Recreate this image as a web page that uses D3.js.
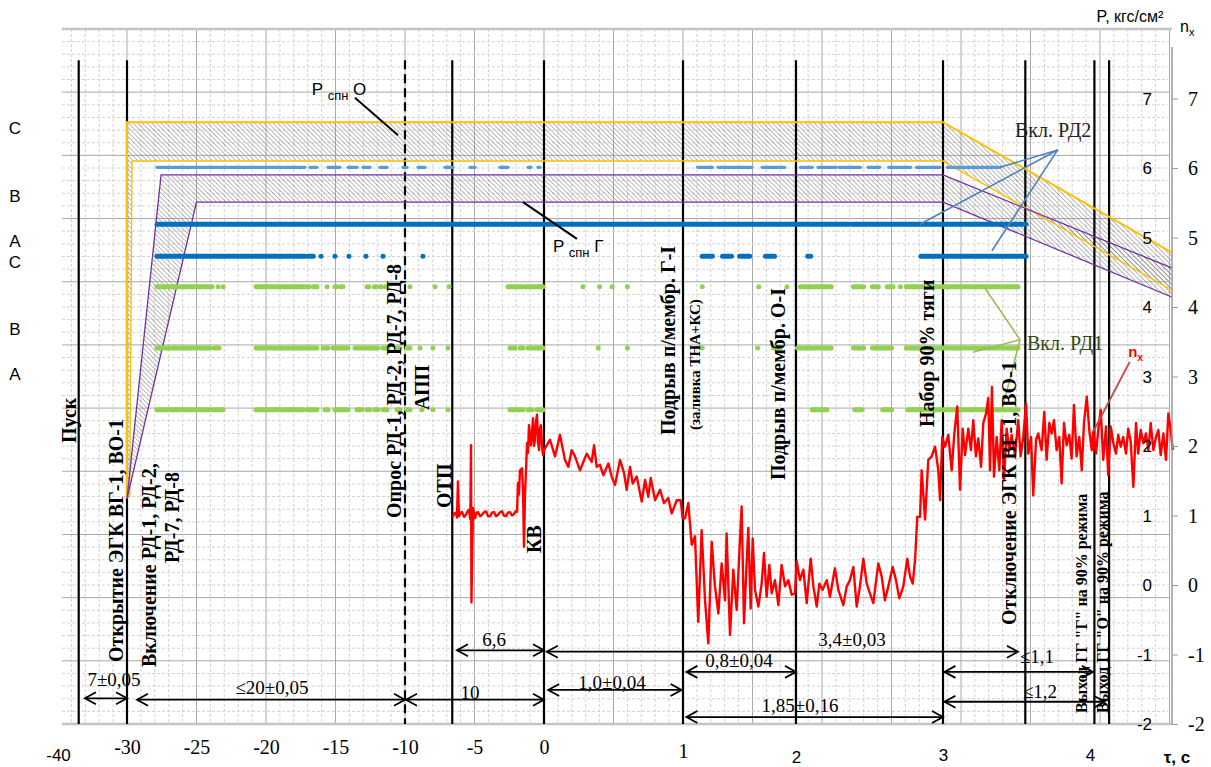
<!DOCTYPE html>
<html lang="ru">
<head>
<meta charset="utf-8">
<title>Циклограмма запуска</title>
<script src="https://cdn.jsdelivr.net/npm/d3@7"></script>
<style>
  body { margin: 0; background: #fff; }
  svg { display: block; }
</style>
</head>
<body>
<div id="chart"></div>
<script>
// ---- values ----
// time axis ticks and the break points of the piecewise time scale
let xTicks = [-40, -30, -25, -20, -15, -10, -5, 0, 1, 2, 3, 4];
let xBreaks = [-40, -30, 0, 1, 2, 3, 4];
let yTicks = [-2, -1, 0, 1, 2, 3, 4, 5, 6, 7];

// letters on the left side and the levels they stand at
let sideLetters = ["C", "B", "A", "C", "B", "A"];
let sideLetterLevels = [6.58, 5.60, 4.95, 4.65, 3.68, 3.04];

// vertical event lines
let eventTimes = [-37, -30, -6.6, 0, 1, 2, 3, 3.56, 4.03, 4.13];
let dashedEventTimes = [-10];

// P спн O band (yellow) and P спн Г band (purple), [t, P]
let bandOOuter = [[-30, 1.24], [-30, 6.66], [3, 6.66], [4.56, 4.78]];
let bandOInner = [[-29.8, 1.26], [-29.64, 6.10], [3, 6.10], [4.56, 4.24]];
let bandGOuter = [[-30, 1.24], [-27.55, 5.90], [3, 5.90], [4.56, 4.56]];
let bandGInner = [[-30, 1.24], [-25, 5.51], [3, 5.51], [4.56, 4.14]];

// signal rows: level and [from, to] pieces
let rowLB = 6.01;
let rowLBSegs = [[-27.84, -17.2], [-16.83, -16.33], [-15.54, -14.68], [-14.1, -13.45], [-13.02, -12.52],
  [-11.8, -11.29], [-10.14, -9.86], [-9.06, -8.56], [-7.12, -6.55], [-5.32, -4.96], [-3.17, -2.59],
  [-1.15, -0.94], [-0.43, -0.29], [1.13, 1.26], [1.31, 1.61], [1.70, 1.90], [2.03, 2.11], [2.15, 2.27],
  [2.29, 2.44], [2.49, 2.57], [2.63, 2.78], [2.82, 2.98], [3.03, 3.39]];
let rowB1 = 5.19;
let rowB1Segs = [[-27.84, -17.15], [-17.0, -2.33], [-2.25, 1.28], [1.30, 2.36], [2.38, 3.565]];
let rowB2 = 4.73;
let rowB2Segs = [[-27.84, -17.2], [-16.98, -16.6], [-16.04, -16.04], [-15.04, -15.04], [-14.03, -14.03],
  [-12.81, -12.81], [-11.58, -11.58], [-8.71, -8.71], [1.17, 1.26], [1.35, 1.43], [1.50, 1.59],
  [1.73, 1.81], [2.08, 2.10], [2.85, 3.565]];
let rowG1 = 4.29;
let rowG1Segs = [[-27.84, -23.88], [-23.45, -23.45], [-23.09, -23.09], [-20.72, -17.19], [-16.98, -16.9],
  [-16.6, -16.33], [-15.61, -15.61], [-15.04, -14.9], [-14.6, -14.46], [-12.73, -12.6], [-12.2, -12.1],
  [-11.8, -11.7], [-11.4, -11.29], [-9.64, -9.64], [-7.84, -7.84], [-6.83, -6.83], [-2.59, -1.51],
  [-1.29, -0.07], [0.28, 0.28], [0.40, 0.40], [0.49, 0.49], [0.60, 0.60], [1.17, 1.17], [1.67, 1.67],
  [1.92, 1.92], [2.03, 2.24], [2.39, 2.46], [2.52, 2.56], [2.62, 2.66], [2.71, 2.71], [2.75, 3.51]];
let rowG2 = 3.41;
let rowG2Segs = [[-27.84, -24.03], [-23.74, -23.38], [-20.72, -17.34], [-17.19, -16.33], [-15.9, -15.54],
  [-15.18, -14.1], [-13.6, -13.09], [-12.88, -12.52], [-12.37, -11.94], [-11.58, -11.22], [-10.58, -10.36],
  [-9.86, -9.64], [-8.92, -8.92], [-7.99, -7.99], [-6.91, -6.91], [-2.45, -2.09], [-1.73, -1.51],
  [-1.15, -0.86], [-0.65, -0.07], [0.39, 0.39], [0.60, 0.60], [1.17, 1.17], [1.66, 1.66], [1.80, 1.86],
  [2.01, 2.24], [2.39, 2.46], [2.52, 2.65], [2.75, 3.51]];
let rowG3 = 2.52;
let rowG3Segs = [[-27.84, -24.03], [-23.81, -23.09], [-20.72, -17.34], [-17.05, -16.33], [-15.75, -15.54],
  [-15.04, -14.1], [-13.45, -13.09], [-12.73, -12.52], [-12.16, -11.94], [-11.58, -11.29], [-10.58, -10.36],
  [-9.86, -9.64], [-8.78, -8.78], [-7.99, -7.99], [-6.91, -6.91], [-2.45, -2.09], [-1.94, -1.51],
  [-1.15, -0.86], [-0.5, -0.07], [2.11, 2.21], [2.40, 2.45], [2.59, 2.65], [2.76, 3.51]];

// n_x signal, [t, n_x]
let nx = [
  [-6.55, 0.98], [-6.45, 1.03], [-6.33, 1.04], [-6.26, 0.97], [-6.19, 1.49], [-6.12, 0.99], [-6.0, 1.04],
  [-5.90, 1.05], [-5.75, 0.98], [-5.61, 1.01], [-5.50, 1.06], [-5.40, 1.08], [-5.30, 0.95], [-5.25, 2.01],
  [-5.22, -0.25], [-5.11, 1.11], [-4.96, 0.96], [-4.85, 1.04], [-4.75, 1.05], [-4.60, 0.99], [-4.46, 1.01],
  [-4.30, 1.05], [-4.17, 1.06], [-4.02, 0.99], [-3.88, 0.99], [-3.75, 1.04], [-3.60, 1.05], [-3.45, 0.99],
  [-3.31, 1.01], [-3.15, 1.05], [-3.02, 1.06], [-2.88, 1.00], [-2.73, 0.99], [-2.60, 1.04], [-2.45, 1.05],
  [-2.30, 1.00], [-2.16, 1.02], [-2.05, 1.06], [-1.94, 1.05], [-1.87, 1.47], [-1.80, 1.30], [-1.73, 1.65],
  [-1.58, 1.68], [-1.51, 1.37], [-1.44, 0.55], [-1.37, 1.27], [-1.22, 2.04], [-1.15, 1.90], [-1.08, 2.30],
  [-0.94, 2.01], [-0.86, 2.20], [-0.79, 2.40], [-0.72, 2.00], [-0.65, 2.09], [-0.58, 2.35], [-0.50, 2.45],
  [-0.43, 2.05], [-0.36, 1.94], [-0.29, 2.25], [-0.22, 2.30], [-0.14, 1.98], [-0.07, 1.87], [0, 1.94],
  [0.043, 2.09], [0.079, 1.85], [0.115, 2.16], [0.151, 1.80], [0.175, 1.70], [0.199, 1.94], [0.223, 1.85],
  [0.259, 1.65], [0.283, 1.77], [0.307, 1.89], [0.343, 1.77], [0.360, 2.01], [0.379, 1.70], [0.403, 1.73],
  [0.427, 1.58], [0.463, 1.75], [0.487, 1.56], [0.511, 1.44], [0.547, 1.80], [0.576, 1.61], [0.595, 1.37],
  [0.619, 1.70], [0.638, 1.46], [0.667, 1.56], [0.703, 1.20], [0.727, 1.51], [0.750, 1.27], [0.768, 1.54],
  [0.799, 1.22], [0.835, 1.37], [0.863, 1.18], [0.894, 1.25], [0.919, 1.03], [0.955, 1.22], [0.983, 1.22],
  [0.998, 0.96], [1.018, 0.96], [1.047, 1.18], [1.077, 0.58], [1.106, 0.70], [1.135, -0.53], [1.165, 0.79],
  [1.195, -0.22], [1.224, -0.84], [1.254, 0.62], [1.283, -0.02], [1.313, -0.41], [1.342, 0.31], [1.372, -0.22],
  [1.386, 0.74], [1.416, -0.72], [1.445, 0.22], [1.475, -0.36], [1.504, 0.65], [1.519, 1.13], [1.540, -0.55],
  [1.563, 0.31], [1.578, 0.82], [1.599, -0.34], [1.617, 0.67], [1.637, -0.07], [1.667, -0.31], [1.696, 0.02],
  [1.717, 0.46], [1.740, -0.17], [1.764, 0.29], [1.785, -0.12], [1.814, 0.07], [1.844, -0.29], [1.873, 0.29],
  [1.903, -0.02], [1.932, 0.07], [1.962, -0.14], [1.991, -0.12], [2.005, 0.34], [2.027, 0.07], [2.050, 0.22],
  [2.073, -0.26], [2.100, 0.38], [2.118, -0.02], [2.141, -0.31], [2.159, 0.02], [2.181, -0.07], [2.209, 0.07],
  [2.231, -0.17], [2.265, 0.24], [2.288, -0.07], [2.322, -0.29], [2.345, -0.02], [2.367, 0.07], [2.390, 0.26],
  [2.413, -0.31], [2.435, -0.02], [2.458, 0.38], [2.481, 0.02], [2.503, -0.12], [2.526, -0.26], [2.560, 0.31],
  [2.583, 0.12], [2.605, -0.22], [2.628, -0.02], [2.658, 0.26], [2.680, 0.07], [2.703, -0.19], [2.730, -0.02],
  [2.757, 0.38], [2.776, 0.12], [2.794, 0.02], [2.810, 0.36], [2.825, 0.98], [2.844, 0.98], [2.855, 1.65],
  [2.878, 0.94], [2.900, 1.80], [2.923, 1.85], [2.946, 1.99], [2.968, 1.65], [2.980, 1.22], [2.995, 2.13],
  [3.014, 1.99], [3.036, 2.16], [3.059, 1.65], [3.077, 2.18], [3.097, 2.57], [3.116, 1.37], [3.134, 2.25],
  [3.150, 1.87], [3.172, 2.25], [3.190, 1.94], [3.206, 2.37], [3.224, 1.85], [3.240, 2.11], [3.259, 1.70],
  [3.274, 2.33], [3.293, 2.47], [3.308, 2.69], [3.320, 1.65], [3.333, 2.85], [3.347, 1.56], [3.365, 2.13],
  [3.383, 1.65], [3.399, 2.37], [3.415, 1.51], [3.433, 2.25], [3.451, 1.94], [3.467, 2.16], [3.490, 1.87],
  [3.512, 2.37], [3.528, 1.85], [3.546, 2.13], [3.565, 2.61], [3.580, 1.89], [3.599, 2.13], [3.614, 1.29],
  [3.633, 2.09], [3.648, 2.18], [3.671, 1.94], [3.689, 2.49], [3.705, 1.80], [3.723, 2.33], [3.739, 2.18],
  [3.755, 2.37], [3.773, 1.94], [3.791, 2.13], [3.807, 1.46], [3.823, 2.33], [3.841, 2.01], [3.859, 2.16],
  [3.875, 1.82], [3.891, 2.59], [3.909, 1.85], [3.927, 2.13], [3.944, 1.65], [3.959, 2.33], [3.978, 2.71],
  [3.995, 2.23], [4.012, 1.94], [4.022, 2.21], [4.041, 1.89], [4.056, 2.23], [4.073, 2.52], [4.090, 1.80],
  [4.109, 2.28], [4.124, 1.58], [4.141, 2.28], [4.159, 2.04], [4.177, 1.89], [4.192, 2.16], [4.209, 1.99],
  [4.226, 2.13], [4.245, 1.89], [4.260, 2.25], [4.277, 2.06], [4.295, 1.41], [4.313, 2.33], [4.328, 1.89],
  [4.345, 2.23], [4.363, 2.04], [4.381, 2.18], [4.397, 1.94], [4.413, 2.33], [4.431, 1.94], [4.449, 2.13],
  [4.465, 2.23], [4.481, 1.87], [4.499, 2.18], [4.517, 1.80], [4.533, 2.47], [4.549, 2.23], [4.563, 1.94]
];

// time intervals between events
let intervalLabels = ["7±0,05", "≤20±0,05", "10", "6,6", "3,4±0,03", "1,0±0,04", "0,8±0,04", "1,85±0,16", "≤1,1", "≤1,2"];
let intervalFrom = [-36.1, -29.28, -9.93, -6.26, 0.02, 0.03, 1.03, 1.03, 3.01, 3.01];
let intervalTo = [-30, -10, 0, 0, 3.51, 0.99, 2, 3, 4.02, 4.10];

// ---- layout ----
let width = 1211, height = 767;
let plot = { left: 62, right: 1170, top: 29, bottom: 724 };

let svg = d3.select("#chart").append("svg")
  .attr("width", width)
  .attr("height", height);

// piecewise time scale, shared value scale for P and n_x
let x = d3.scaleLinear()
  .domain(xBreaks)
  .range([58, 127, 544, 683, 796, 943, 1090]);
let y = d3.scaleLinear()
  .domain([-2, 8])
  .range([plot.bottom, plot.top]);

let serif = "'Liberation Serif', 'Times New Roman', serif";
let sans = "'Liberation Sans', Arial, sans-serif";

// hatch pattern for the bands
svg.append("defs").append("pattern")
  .attr("id", "hatch")
  .attr("patternUnits", "userSpaceOnUse")
  .attr("width", 3.3).attr("height", 3.3)
  .attr("patternTransform", "rotate(-45)")
  .append("line")
  .attr("x1", 0).attr("y1", 0).attr("x2", 0).attr("y2", 3.3)
  .attr("stroke", "#7b7b7b").attr("stroke-width", 1);

// grid: 5 minor steps per major cell
let grid = svg.append("g");
let gx = d3.scaleLinear().domain([-30, 0]).range([x(-30), x(0)]);
d3.range(-34, 76).forEach(k => {
  let px = gx(k);
  if (px < plot.left || px > plot.right + 0.5) return;
  let major = ((k % 5) + 5) % 5 === 0;
  grid.append("line")
    .attr("x1", px).attr("x2", px)
    .attr("y1", plot.top).attr("y2", plot.bottom)
    .attr("stroke", major ? "#a9a9a9" : "#d2d2d2")
    .attr("stroke-width", 1)
    .attr("stroke-dasharray", major ? null : "3,2");
});
let gy = d3.scaleLinear().domain([0, 55]).range([plot.bottom, plot.top]);
d3.range(1, 55).forEach(k => {
  let major = k % 5 === 0;
  grid.append("line")
    .attr("x1", plot.left).attr("x2", plot.right)
    .attr("y1", gy(k)).attr("y2", gy(k))
    .attr("stroke", major ? "#a9a9a9" : "#d2d2d2")
    .attr("stroke-width", 1)
    .attr("stroke-dasharray", major ? null : "3,2");
});
[plot.top, plot.bottom].forEach(py => {
  grid.append("line")
    .attr("x1", plot.left).attr("x2", plot.right + 2)
    .attr("y1", py).attr("y2", py)
    .attr("stroke", "#c4c4c4").attr("stroke-width", 2.5);
});

let line = d3.line().x(d => x(d[0])).y(d => y(d[1]));

// hatched bands
function drawBandFill(outer, inner) {
  svg.append("path")
    .attr("d", line(outer.concat(inner.slice().reverse())) + "Z")
    .attr("fill", "url(#hatch)");
}
drawBandFill(bandOOuter, bandOInner);
drawBandFill(bandGOuter, bandGInner);

// event lines
svg.append("g").selectAll("line")
  .data(eventTimes)
  .enter()
  .append("line")
  .attr("x1", d => x(d)).attr("x2", d => x(d))
  .attr("y1", y(7.55)).attr("y2", y(-2))
  .attr("stroke", "#000").attr("stroke-width", 2.2);
svg.append("g").selectAll("line")
  .data(dashedEventTimes)
  .enter()
  .append("line")
  .attr("x1", d => x(d)).attr("x2", d => x(d))
  .attr("y1", y(7.55)).attr("y2", y(-2))
  .attr("stroke", "#000").attr("stroke-width", 2.2)
  .attr("stroke-dasharray", "9,5");

// band borders
[[bandOOuter, "#ffc000", 2], [bandOInner, "#ffc000", 1.4],
 [bandGOuter, "#7030a0", 1.3], [bandGInner, "#7030a0", 1.3]].forEach(b => {
  svg.append("path")
    .attr("d", line(b[0]))
    .attr("fill", "none")
    .attr("stroke", b[1])
    .attr("stroke-width", b[2]);
});

// signal rows
function drawRow(level, segs, color, w) {
  svg.append("g").selectAll("line")
    .data(segs)
    .enter()
    .append("line")
    .attr("x1", d => x(d[0])).attr("x2", d => x(d[1]))
    .attr("y1", y(level)).attr("y2", y(level))
    .attr("stroke", color)
    .attr("stroke-width", w)
    .attr("stroke-linecap", "round");
}
drawRow(rowLB, rowLBSegs, "#5b9bd5", 3.2);
drawRow(rowB1, rowB1Segs, "#0070c0", 5);
drawRow(rowB2, rowB2Segs, "#0070c0", 5);
drawRow(rowG1, rowG1Segs, "#92d050", 5);
drawRow(rowG2, rowG2Segs, "#92d050", 5);
drawRow(rowG3, rowG3Segs, "#92d050", 5);

// callouts
function callout(from, tos, color, w) {
  tos.forEach(to => {
    svg.append("line")
      .attr("x1", x(from[0])).attr("y1", y(from[1]))
      .attr("x2", x(to[0])).attr("y2", y(to[1]))
      .attr("stroke", color).attr("stroke-width", w);
  });
}
callout([-13.6, 7.01], [[-10.5, 6.47]], "#000", 2);
callout([0.237, 4.98], [[-1.51, 5.51]], "#000", 2);
callout([3.78, 6.26], [[3.388, 6.01], [2.844, 5.19], [3.333, 4.81]], "#4f81bd", 1.6);
callout([3.524, 3.53], [[3.286, 4.27], [3.204, 3.35], [3.401, 2.52]], "#9bbb59", 1.6);

// n_x
svg.append("path")
  .datum(nx)
  .attr("d", line)
  .attr("fill", "none")
  .attr("stroke", "#ff0000")
  .attr("stroke-width", 2.4)
  .attr("stroke-linejoin", "round");
callout([4.02, 2.20], [[4.27, 3.21]], "#c0504d", 2);

// right axis with two label columns
let yAxis = d3.axisRight(y).tickValues(yTicks).tickSize(6).tickFormat("");
let yAxisG = svg.append("g")
  .attr("transform", `translate(1172,0)`)
  .call(yAxis);
yAxisG.select(".domain").remove();
yAxisG.selectAll(".tick line").attr("stroke", "#9a9a9a");
yAxisG.append("line")
  .attr("x1", 0).attr("x2", 0)
  .attr("y1", y(7.74)).attr("y2", y(-2))
  .attr("stroke", "#9a9a9a").attr("stroke-width", 1.5);
svg.append("g").selectAll("text")
  .data(yTicks)
  .enter()
  .append("text")
  .attr("x", 1152)
  .attr("y", d => y(d) + 6)
  .attr("text-anchor", "end")
  .attr("font-family", sans)
  .attr("font-size", 17)
  .text(d => String(d));
svg.append("g").selectAll("text")
  .data(yTicks)
  .enter()
  .append("text")
  .attr("x", 1188)
  .attr("y", d => y(d) + 7)
  .attr("font-family", serif)
  .attr("font-size", 20)
  .text(d => String(d));

// bottom axis, hyphen minus as in the original
let isSansTick = d => d === -40 || d >= 2;
let xAxis = d3.axisBottom(x).tickValues(xTicks).tickSize(0).tickPadding(0)
  .tickFormat(d => String(d));
let xAxisG = svg.append("g")
  .attr("transform", `translate(0,${plot.bottom})`)
  .call(xAxis);
xAxisG.select(".domain").remove();
xAxisG.selectAll(".tick text")
  .attr("fill", "#000")
  .attr("dy", 0)
  .attr("y", d => d === -40 ? 37 : d === 1 ? 34 : d === 2 ? 39 : d > 2 ? 37 : 30)
  .attr("font-family", d => isSansTick(d) ? sans : serif)
  .attr("font-size", d => isSansTick(d) ? 17 : 20)
  .style("font-family", d => isSansTick(d) ? sans : serif)
  .style("font-size", d => isSansTick(d) ? "17px" : "20px");

svg.append("text")
  .attr("x", 1177).attr("y", 763)
  .attr("text-anchor", "middle")
  .attr("font-family", sans).attr("font-size", 17).attr("font-weight", "bold")
  .text("τ, с");
svg.append("text")
  .attr("x", 1130).attr("y", 22)
  .attr("text-anchor", "middle")
  .attr("font-family", sans).attr("font-size", 16)
  .text("P, кгс/см²");
let nxTop = svg.append("text")
  .attr("x", 1180).attr("y", 32)
  .attr("font-family", sans).attr("font-size", 16);
nxTop.append("tspan").text("n");
nxTop.append("tspan").attr("dy", 4).attr("font-size", 11).text("x");

// side letters
svg.append("g").selectAll("text")
  .data(sideLetters)
  .enter()
  .append("text")
  .attr("x", 15)
  .attr("y", (d, i) => y(sideLetterLevels[i]) + 6)
  .attr("text-anchor", "middle")
  .attr("font-family", sans)
  .attr("font-size", 17)
  .text(d => d);

// band labels
function spnLabel(t, v, suffix) {
  let tx = svg.append("text")
    .attr("x", x(t)).attr("y", y(v))
    .attr("font-family", sans).attr("font-size", 17);
  tx.append("tspan").text("P ");
  tx.append("tspan").attr("dy", 5).attr("font-size", 13).text("спн");
  tx.append("tspan").attr("dy", -5).text(" " + suffix);
}
spnLabel(-16.7, 7.05, "O");
spnLabel(0.065, 4.79, "Г");

svg.append("text")
  .attr("x", x(3.49)).attr("y", y(6.45))
  .attr("font-family", serif).attr("font-size", 20).attr("fill", "#222")
  .text("Вкл. РД2");
svg.append("text")
  .attr("x", x(3.571)).attr("y", y(3.38))
  .attr("font-family", serif).attr("font-size", 20).attr("fill", "#2e4a12")
  .text("Вкл. РД1");
let nxLabel = svg.append("text")
  .attr("x", x(4.26)).attr("y", y(3.28))
  .attr("fill", "#ff0000")
  .attr("font-family", sans).attr("font-size", 15).attr("font-weight", "bold");
nxLabel.append("tspan").text("n");
nxLabel.append("tspan").attr("dy", 4).attr("font-size", 10).text("x");

// rotated event labels: [text, event time, x offset, bottom y, font size]
let eventLabels = [
  ["Пуск", -37, -3, 443, 20],
  ["Открытие  ЭГК ВГ-1, ВО-1", -30, -4, 662, 20],
  ["Включение РД-1, РД-2,", -30, 29, 667, 20],
  ["РД-7, РД-8", -30, 52, 563, 20],
  ["Опрос РД-1, РД-2, РД-7, РД-8", -10, -4, 518, 20],
  ["АПП", -10, 24, 410, 20],
  ["ОТП", -6.6, -1, 508, 20],
  ["КВ", 0, -3, 553, 20],
  ["Подрыв  п/мембр. Г-I", 1, -8, 435, 20],
  ["(заливка ТНА+КС)", 1, 17, 430, 15],
  ["Подрыв  п/мембр. О-I", 2, -11, 480, 20],
  ["Набор  90% тяги", 3, -9, 427, 20],
  ["Отключение  ЭГК ВГ-1, ВО-1", 3.56, -9, 625, 20],
  ["Выход ГГ \"Г\" на 90% режима", 4.03, -7, 713, 16],
  ["Выход ГГ \"О\" на 90% режима", 4.13, -1, 713, 16]
];
svg.append("g").selectAll("text")
  .data(eventLabels)
  .enter()
  .append("text")
  .attr("transform", d => `translate(${x(d[1]) + d[2]},${d[3]}) rotate(-90)`)
  .attr("font-family", serif)
  .attr("font-weight", "bold")
  .attr("font-size", d => d[4])
  .text(d => d[0]);

// interval arrows: level (P units) and label position
let arrowLevels = [-1.63, -1.65, -1.65, -0.94, -0.96, -1.51, -1.25, -1.90, -1.25, -1.68];
let labelLevels = [-1.46, -1.57, -1.64, -0.88, -0.88, -1.50, -1.18, -1.83, -1.12, -1.63];
let labelCenters = [114, 272, 470, 494, 852, 612, 739, 800, 1037, 1040];
let arrows = svg.append("g")
  .attr("stroke", "#000").attr("stroke-width", 1.8).attr("fill", "none");
intervalLabels.forEach((lab, i) => {
  let x1 = x(intervalFrom[i]), x2 = x(intervalTo[i]), py = y(arrowLevels[i]);
  arrows.append("line").attr("x1", x1).attr("x2", x2).attr("y1", py).attr("y2", py);
  arrows.append("path").attr("d", `M${x1 + 11},${py - 6}L${x1},${py}L${x1 + 11},${py + 6}`);
  arrows.append("path").attr("d", `M${x2 - 11},${py - 6}L${x2},${py}L${x2 - 11},${py + 6}`);
  svg.append("text")
    .attr("x", labelCenters[i])
    .attr("y", y(labelLevels[i]))
    .attr("text-anchor", "middle")
    .attr("font-family", serif)
    .attr("font-size", 19)
    .text(lab);
});
</script>
</body>
</html>
